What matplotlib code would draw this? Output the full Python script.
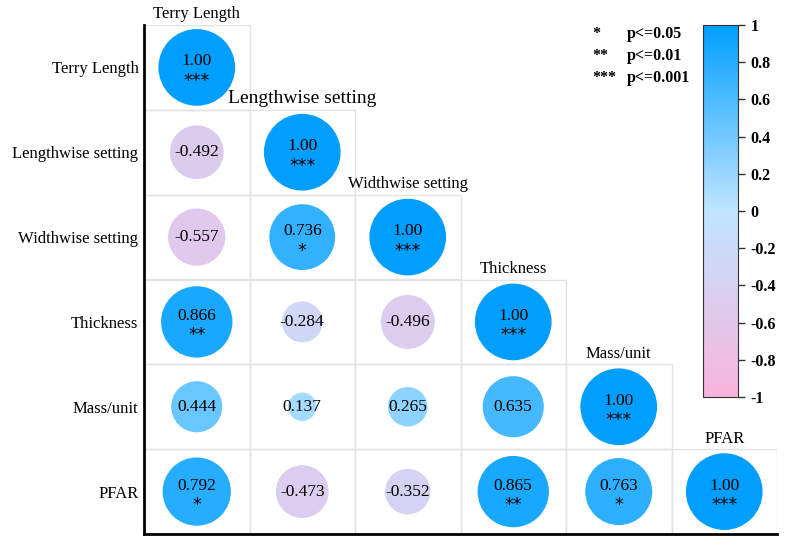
import numpy as np
import matplotlib.pyplot as plt
from matplotlib.colors import LinearSegmentedColormap, Normalize
from matplotlib.patches import Rectangle
from matplotlib.colorbar import ColorbarBase

variables = ["Terry Length", "Lengthwise setting", "Widthwise setting",
             "Thickness", "Mass/unit", "PFAR"]

# lower triangle, row by row
corr_rows = [
    [1.00],
    [-0.492, 1.00],
    [-0.557, 0.736, 1.00],
    [0.866, -0.284, -0.496, 1.00],
    [0.444, 0.137, 0.265, 0.635, 1.00],
    [0.792, -0.473, -0.352, 0.865, 0.763, 1.00],
]
stars_rows = [
    ["***"],
    ["", "***"],
    ["", "*", "***"],
    ["**", "", "", "***"],
    ["", "", "", "", "***"],
    ["*", "", "", "**", "*", "***"],
]
legend_stars = ["*", "**", "***"]
legend_text = ["p<=0.05", "p<=0.01", "p<=0.001"]
cbar_ticks = [1, 0.8, 0.6, 0.4, 0.2, 0, -0.2, -0.4, -0.6, -0.8, -1]

serif = "Liberation Serif"
cmap = LinearSegmentedColormap.from_list("pb", ["#f9b3dd", "#bfe5ff", "#009fff"])
norm = Normalize(-1, 1)

fig = plt.figure(figsize=(8, 5.47), dpi=100)
ax = fig.add_axes([144/800, 13/547, 633/800, 509/547])
n = len(variables)
ax.set_xlim(0, n)
ax.set_ylim(n, 0)

for i, row in enumerate(corr_rows):
    for j, v in enumerate(row):
        ax.add_patch(Rectangle((j, i), 1, 1, fill=False, ec="#e3e3e3", lw=1, zorder=1))
        ax.scatter(j + 0.5, i + 0.5, s=3050 * abs(v), color=cmap(norm(v)),
                   edgecolors="none", zorder=2)
        label = "1.00" if i == j else f"{v:.3f}"
        st = stars_rows[i][j]
        if st:
            ax.text(j + 0.5, i + 0.43, label, ha="center", va="center",
                    family=serif, fontsize=12.5, zorder=3)
            ax.text(j + 0.5, i + 0.66, st, ha="center", va="center",
                    family="DejaVu Sans", fontsize=12.5, zorder=3)
        else:
            ax.text(j + 0.5, i + 0.5, label, ha="center", va="center",
                    family=serif, fontsize=12.5, zorder=3)
    # column label above diagonal cell
    fs = 14 if i == 1 else 12
    ax.text(i + 0.5, i - 0.03, variables[i], ha="center", va="bottom",
            family=serif, fontsize=fs)

ax.set_yticks(np.arange(n) + 0.5)
ax.set_yticklabels(variables, family=serif, fontsize=12)
ax.tick_params(axis="y", length=0, pad=4)
ax.set_xticks([])
for s in ["top", "right"]:
    ax.spines[s].set_visible(False)
for s in ["left", "bottom"]:
    ax.spines[s].set_linewidth(2)

# significance legend
for k, (a, b) in enumerate(zip(legend_stars, legend_text)):
    y = 1 - 34/547 - k * 22/547
    fig.text(592/800, y, a, family=serif, fontsize=11.5, fontweight="bold", va="center")
    fig.text(627/800, y, b, family=serif, fontsize=11.5, fontweight="bold", va="center")

cax = fig.add_axes([703/800, 150/547, 35/800, 372/547])
cb = ColorbarBase(cax, cmap=cmap, norm=norm, orientation="vertical")
cb.set_ticks(cbar_ticks)
cb.set_ticklabels([f"{t:g}" for t in cbar_ticks])
cb.outline.set_edgecolor("#333333")
cax.tick_params(length=5, width=1, color="#333333", pad=4)
for t in cax.get_yticklabels():
    t.set_family(serif)
    t.set_fontweight("bold")
    t.set_fontsize(11.5)

fig.savefig("out.png", dpi=100)
